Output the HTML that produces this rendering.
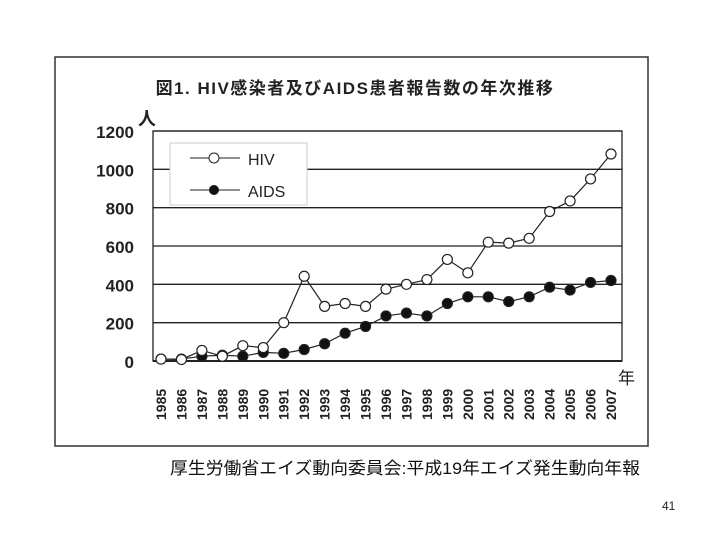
<!DOCTYPE html>
<html><head><meta charset="utf-8"><style>
body{margin:0;background:#fff;}
svg text{font-family:"Liberation Sans","Noto Sans CJK JP",sans-serif;}
</style></head><body>
<svg width="720" height="540" viewBox="0 0 720 540">
<rect x="55" y="57" width="593" height="389" fill="#fff" stroke="#333" stroke-width="1.5"/>
<text x="355" y="94" text-anchor="middle" font-size="17" font-weight="bold" fill="#222" letter-spacing="1.5">図1. HIV感染者及びAIDS患者報告数の年次推移</text>
<text x="138" y="125" font-size="18" font-weight="bold" fill="#222">人</text>
<text x="618" y="384" font-size="17" fill="#222">年</text>
<g id="grid"></g><g id="axes"></g><g id="series"></g>
<g>
<rect x="170" y="143" width="137" height="62" fill="#fff" stroke="#ccc"/>
<line x1="190" y1="158" x2="240" y2="158" stroke="#222"/>
<circle cx="214" cy="158" r="5" fill="#fff" stroke="#222"/>
<text x="248" y="165" font-size="16" fill="#222">HIV</text>
<line x1="190" y1="190" x2="240" y2="190" stroke="#222"/>
<circle cx="214" cy="190" r="5" fill="#111"/>
<text x="248" y="197" font-size="16" fill="#222">AIDS</text>
</g>
<text x="170" y="474" font-size="17" fill="#111" textLength="470" lengthAdjust="spacingAndGlyphs">厚生労働省エイズ動向委員会:平成19年エイズ発生動向年報</text>
<text x="662" y="510" font-size="12" fill="#222">41</text>
</svg>
<script>
const years=["1985","1986","1987","1988","1989","1990","1991","1992","1993","1994","1995","1996","1997","1998","1999","2000","2001","2002","2003","2004","2005","2006","2007"];
const hiv=[10,8,55,25,80,70,200,442,285,300,285,375,400,425,530,460,620,615,640,780,835,950,1080];
const aids=[10,10,25,30,25,45,40,60,90,145,180,235,250,235,300,335,335,310,335,385,370,410,420];
const yTicks=[0,200,400,600,800,1000,1200];
const NS="http://www.w3.org/2000/svg";
const L=153,R=622,T=131,B=361,ymax=1200;
const x0=161,x1=611;
function xs(i){return x0+(x1-x0)*i/(years.length-1);}
function ys(v){return B-(B-T)*v/ymax;}
function mk(t,a,p){const e=document.createElementNS(NS,t);for(const k in a)e.setAttribute(k,a[k]);p.appendChild(e);return e;}
const grid=document.getElementById('grid'),axes=document.getElementById('axes'),ser=document.getElementById('series');
yTicks.forEach(v=>{
  const ln=mk('line',{x1:L,x2:R,y1:ys(v),y2:ys(v),stroke:'#222','stroke-width':v===0?2:1.3},grid);
  
  
  const t=mk('text',{x:L-19,y:ys(v)+7,'text-anchor':'end','font-size':17,'font-weight':'bold',fill:'#222'},axes);
  t.textContent=v;
  
  
});
const bx=mk('rect',{x:L,y:T,width:R-L,height:B-T,fill:'none',stroke:'#222','stroke-width':1.3},grid);


years.forEach((y,i)=>{
  const t=mk('text',{x:0,y:0,'font-size':14,'font-weight':'bold',fill:'#222',transform:`translate(${xs(i)+5},420) rotate(-90)`},axes);
  t.textContent=y;
  
  
});
function series(vals,fill,name){
  const pl=mk('polyline',{points:vals.map((v,i)=>xs(i)+','+ys(v)).join(' '),fill:'none',stroke:'#222','stroke-width':1.2},ser);
  
  
  vals.forEach((v,i)=>{
    const c=mk('circle',{cx:xs(i),cy:ys(v),r:5,fill:fill,stroke:'#222','stroke-width':1.2},ser);
    
    
  });
}
series(aids,'#111','aids');
series(hiv,'#fff','hiv');
</script>
</body></html>
